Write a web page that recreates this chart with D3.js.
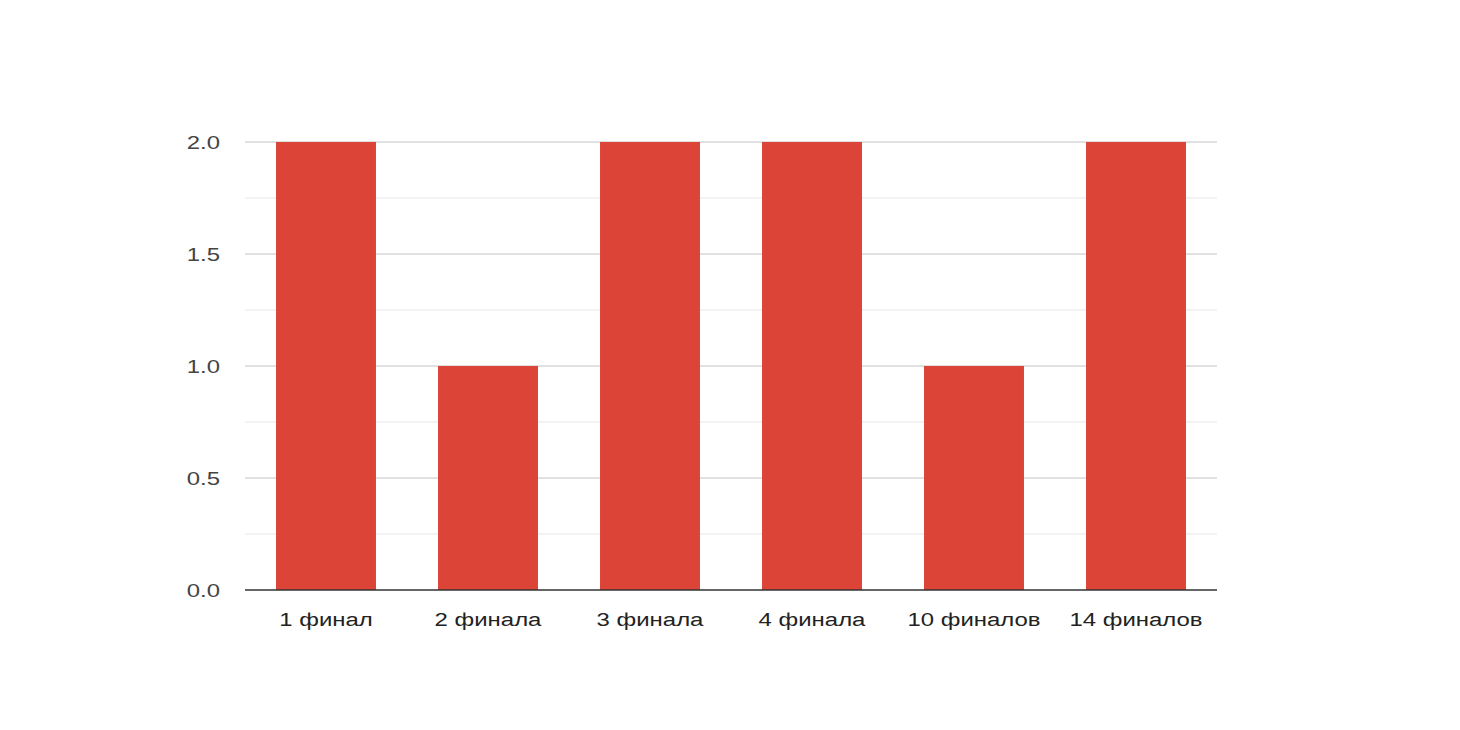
<!DOCTYPE html>
<html><head><meta charset="utf-8">
<script src="https://cdn.jsdelivr.net/npm/d3@7"></script>
<style>body{margin:0;background:#fff}svg{display:block}text{font-family:"Liberation Sans",Arial,sans-serif}</style>
</head><body>
<svg id="c" width="1460" height="730"></svg>
<script>
const categories = ["1 финал","2 финала","3 финала","4 финала","10 финалов","14 финалов"];
const values = [2,1,2,2,1,2];
const yTicks = [0,0.5,1.0,1.5,2.0];
const yMinor = [0.25,0.75,1.25,1.75];

const svg = d3.select("#c");
const L=245,R=1217,T=142,B=590;
const SX=1.26;
const x = d3.scaleBand().domain(categories).range([L,R]).paddingInner(0.383).paddingOuter(0.1915);
const y = d3.scaleLinear().domain([0,2]).range([B,T]);

svg.append("g").selectAll("line").data(yMinor).join("line")
  .attr("x1",L).attr("x2",R).attr("y1",d=>y(d)).attr("y2",d=>y(d))
  .attr("stroke","#e6e6e6").attr("stroke-width",1);
svg.append("g").selectAll("line").data(yTicks.filter(d=>d>0)).join("line")
  .attr("x1",L).attr("x2",R).attr("y1",d=>y(d)).attr("y2",d=>y(d))
  .attr("stroke","#c4c4c4").attr("stroke-width",1.2);

svg.append("g").selectAll("rect").data(values).join("rect")
  .attr("x",(d,i)=>x(categories[i])).attr("width",x.bandwidth())
  .attr("y",d=>y(d)).attr("height",d=>B-y(d)).attr("fill","#db4437");

svg.append("line").attr("x1",L).attr("x2",R).attr("y1",B).attr("y2",B).attr("stroke","#333").attr("stroke-width",1.5);

svg.append("g").selectAll("text").data(yTicks).join("text")
  .attr("transform",d=>`translate(220,${y(d)}) scale(${SX},1)`).attr("dy","0.36em").attr("text-anchor","end")
  .attr("font-size",19).attr("fill","#444").text(d=>d3.format(".1f")(d));

svg.append("g").selectAll("text").data(categories).join("text")
  .attr("transform",d=>`translate(${x(d)+x.bandwidth()/2},619) scale(${SX},1)`).attr("dy","0.36em").attr("text-anchor","middle")
  .attr("font-size",19).attr("fill","#222").text(d=>d);
</script>
</body></html>
